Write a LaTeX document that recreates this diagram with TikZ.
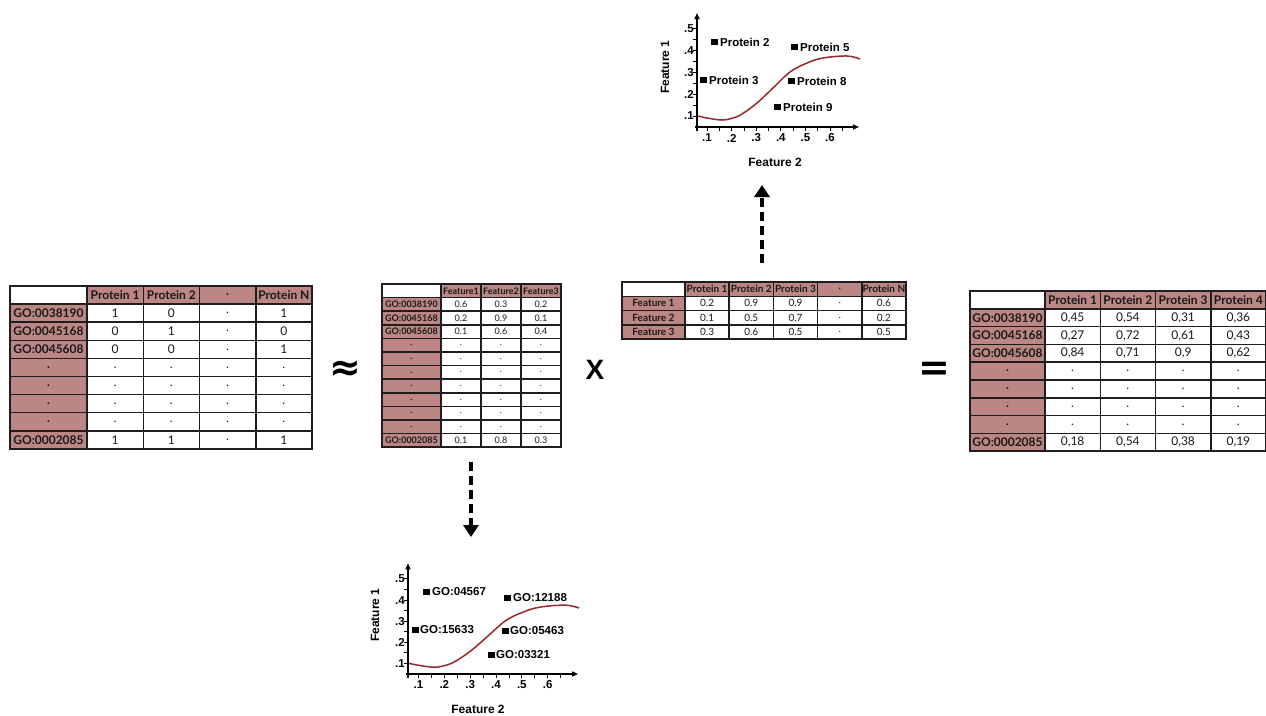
\documentclass[tikz,border=0pt]{standalone}
\usepackage{fontspec}
\setmainfont{Lato}
\newfontfamily\chartfont{Liberation Sans}
\newfontfamily\symfont{DejaVu Sans}
\usetikzlibrary{arrows.meta}
\definecolor{rose}{RGB}{187,134,131}
\definecolor{curvec}{RGB}{155,40,40}
\definecolor{gridc}{RGB}{30,30,30}
\tikzset{
  cell/.style={draw=gridc, line width=1.5pt, inner sep=0pt, outer sep=0pt, text=black!90},
  dasharrow/.style={line width=4pt, dash pattern=on 9pt off 5pt, -{Triangle[width=15pt,length=12pt]}},
  axisline/.style={line width=1.8pt, -{Triangle[width=5pt,length=6pt]}},
  tickline/.style={line width=0.8pt},
  ptsq/.style={fill=black, minimum width=7pt, minimum height=6pt, inner sep=0pt},
  ptlabel/.style={font=\chartfont\bfseries\fontsize{11.5}{11.5}\selectfont, anchor=west, inner sep=0pt},
  ticklab/.style={font=\chartfont\bfseries\fontsize{11.5}{11.5}\selectfont, inner sep=0pt},
  axlab/.style={font=\chartfont\bfseries\fontsize{12}{12}\selectfont, inner sep=0pt},
  bigsym/.style={font=\symfont\bfseries\fontsize{38}{38}\selectfont, inner sep=0pt},
}
% #1 name, #2 x0, #3 y0, #4 label width, #5 col width, #6 row height, #7 font size, #8 rows
\newcommand{\drawtab}[8]{%
  \foreach \row [count=\ri from 0] in {#8} {
    \foreach \txt [count=\ci from 0] in \row {
      \pgfmathsetmacro\cx{\ci==0 ? #2 : #2+#4+(\ci-1)*#5}
      \pgfmathsetmacro\cw{\ci==0 ? #4 : #5}
      \pgfmathsetmacro\cy{#3+\ri*#6}
      \pgfmathtruncatemacro\hd{(\ri==0 || \ci==0) ? 1 : 0}
      \pgfmathtruncatemacro\corner{(\ri==0 && \ci==0) ? 1 : 0}
      \ifnum\corner=1 \def\fc{white}\else\ifnum\hd=1 \def\fc{rose}\else\def\fc{white}\fi\fi
      \node[cell, fill=\fc, minimum width=\cw pt, minimum height=#6 pt, anchor=north west,
            font=\fontsize{#7}{#7}\selectfont] (#1-\ri-\ci) at (\cx,\cy) {\ifnum\hd=1 \bfseries\fi\txt};
    }
  }%
}
\newcommand{\chartframe}{%
  \draw[axisline] (-2,0) -- (162,0);
  \draw[axisline] (0,4) -- (0,-114);
  \foreach \k in {0,...,11} { \draw[tickline] ({10+12.3*\k},0) -- ({10+12.3*\k},4); }
  \foreach \k in {0,...,8} { \draw[tickline] (0,{-11-10.9*\k}) -- (-4,{-11-10.9*\k}); }
  \foreach \lab [count=\i from 0] in {.1,.2,.3,.4,.5,.6} { \node[ticklab] at ({10+24.6*\i},11) {\lab}; }
  \foreach \lab [count=\i from 0] in {.1,.2,.3,.4,.5} { \node[ticklab, anchor=east] at (-3,{-11-21.75*\i}) {\lab}; }
  \draw[curvec, line width=1.5pt] plot[smooth, tension=0.6] coordinates {(1,-11) (10,-9) (25,-7) (36,-9) (45,-13) (60,-24) (76,-39) (93,-55) (110,-64) (126,-69) (150,-71) (163,-68)};
}
\begin{document}
\begin{tikzpicture}[x=1pt, y=-1pt]
\useasboundingbox[fill=white] (0,0) rectangle (1266,715);

% left matrix
\drawtab{L}{10}{286}{77}{56.25}{18.1}{12}{
  {{},Protein 1,Protein 2,.,Protein N},
  {GO:0038190,1,0,.,1},
  {GO:0045168,0,1,.,0},
  {GO:0045608,0,0,.,1},
  {.,.,.,.,.},
  {.,.,.,.,.},
  {.,.,.,.,.},
  {.,.,.,.,.},
  {GO:0002085,1,1,.,1}}

% middle matrix
\drawtab{M}{382}{284}{59}{40}{13.6}{9}{
  {{},Feature1,Feature2,Feature3},
  {GO:0038190,0.6,0.3,0.2},
  {GO:0045168,0.2,0.9,0.1},
  {GO:0045608,0.1,0.6,0.4},
  {.,.,.,.},
  {.,.,.,.},
  {.,.,.,.},
  {.,.,.,.},
  {.,.,.,.},
  {.,.,.,.},
  {.,.,.,.},
  {GO:0002085,0.1,0.8,0.3}}

% top matrix
\drawtab{T}{622}{282}{63}{44.2}{14.25}{10}{
  {{},Protein 1,Protein 2,Protein 3,.,Protein N},
  {Feature 1,0.2,0.9,0.9,.,0.6},
  {Feature 2,0.1,0.5,0.7,.,0.2},
  {Feature 3,0.3,0.6,0.5,.,0.5}}

% right matrix
\drawtab{R}{970}{291}{75}{55.25}{17.8}{12}{
  {{},Protein 1,Protein 2,Protein 3,Protein 4},
  {GO:0038190,0{,}45,0{,}54,0{,}31,0{,}36},
  {GO:0045168,0{,}27,0{,}72,0{,}61,0{,}43},
  {GO:0045608,0{,}84,0{,}71,0{,}9,0{,}62},
  {.,.,.,.,.},
  {.,.,.,.,.},
  {.,.,.,.,.},
  {.,.,.,.,.},
  {GO:0002085,0{,}18,0{,}54,0{,}38,0{,}19}}

% operators
\node[bigsym] (approx) at (345,371) {≈};
\node[font=\chartfont\bfseries\fontsize{28}{28}\selectfont, inner sep=0pt] (times) at (595,370) {X};
\node[bigsym] (equals) at (934,371) {=};

% top chart
\begin{scope}[shift={(697,127)}]
  \chartframe
\end{scope}
\node[axlab, rotate=90] (tf1) at (665,67) {Feature 1};
\node[axlab] (tf2) at (775,162) {Feature 2};
\node[ptsq] (p2) at (714,42) {};  \node[ptlabel] (p2l) at (720,42) {Protein 2};
\node[ptsq] (p5) at (794,47) {};  \node[ptlabel] (p5l) at (800,47) {Protein 5};
\node[ptsq] (p3) at (703,80) {};  \node[ptlabel] (p3l) at (709,80) {Protein 3};
\node[ptsq] (p8) at (791,81) {};  \node[ptlabel] (p8l) at (797,81) {Protein 8};
\node[ptsq] (p9) at (777,107) {}; \node[ptlabel] (p9l) at (783,107) {Protein 9};

% bottom chart
\begin{scope}[shift={(408,674)}, xscale=1.05, yscale=0.97]
  \chartframe
\end{scope}
\node[axlab, rotate=90] (bf1) at (375,615) {Feature 1};
\node[axlab] (bf2) at (478,709) {Feature 2};
\node[ptsq] (g1) at (426,592) {}; \node[ptlabel] (g1l) at (432,592) {GO:04567};
\node[ptsq] (g2) at (507,598) {}; \node[ptlabel] (g2l) at (513,598) {GO:12188};
\node[ptsq] (g3) at (415,630) {}; \node[ptlabel] (g3l) at (420,630) {GO:15633};
\node[ptsq] (g4) at (505,631) {}; \node[ptlabel] (g4l) at (510,631) {GO:05463};
\node[ptsq] (g5) at (491,655) {}; \node[ptlabel] (g5l) at (496,655) {GO:03321};

% arrows
\coordinate (upS) at (762,263);
\coordinate (upT) at (762,185);
\draw[dasharrow] (upS) -- (upT);
\coordinate (dnS) at (471,462);
\coordinate (dnT) at (471,537);
\draw[dasharrow] (dnS) -- (dnT);
\end{tikzpicture}
\end{document}
